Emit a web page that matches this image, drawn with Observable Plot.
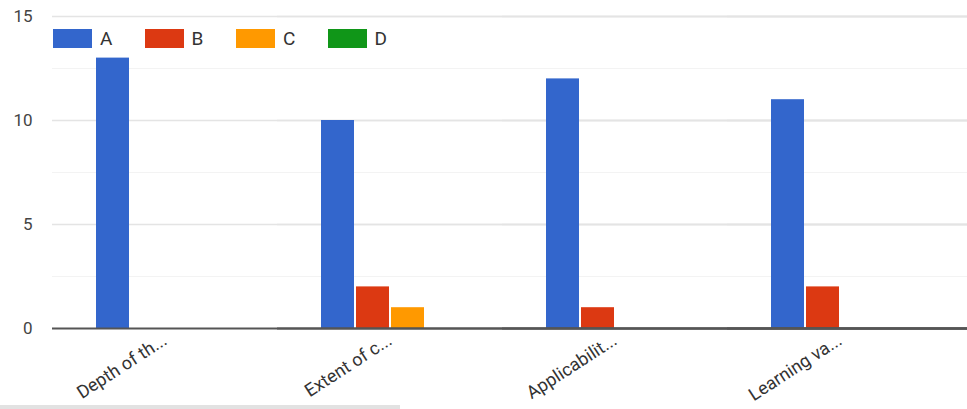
<!DOCTYPE html>
<html>
<head>
<meta charset="utf-8">
<script src="https://cdn.jsdelivr.net/npm/d3@7"></script>
<script src="https://cdn.jsdelivr.net/npm/@observablehq/plot@0.6"></script>
<style>
  html, body { margin: 0; padding: 0; background: #fff; }
  #wrap { position: relative; width: 967px; height: 409px; overflow: hidden; font-family: Roboto, "Noto Sans", Arial, sans-serif; }
  #legend { position: absolute; left: 53px; top: 29px; display: flex; }
  .item { display: flex; align-items: center; width: 91.5px; }
  .sw { width: 39px; height: 19px; margin-right: 8px; }
  .lab { font-size: 19px; color: #333; line-height: 19px; }
  #scroll { position: absolute; left: 0; top: 405px; width: 400px; height: 4px; background: #e2e2e2; }
</style>
</head>
<body>
<div id="wrap">
  <div id="chart"></div>
  <div id="legend"></div>
  <div id="scroll"></div>
</div>
<script>
const categories = ["Depth of th...", "Extent of c...", "Applicabilit...", "Learning va..."];
const seriesNames = ["A", "B", "C", "D"];
const valuesA = [13, 10, 12, 11];
const valuesB = [0, 2, 1, 2];
const valuesC = [0, 1, 0, 0];
const valuesD = [0, 0, 0, 0];
const seriesColors = ["#3366cc", "#dc3912", "#ff9900", "#109618"];
const yTicks = [0, 5, 10, 15];
const yMinorTicks = [2.5, 7.5, 12.5];

const seriesValues = [valuesA, valuesB, valuesC, valuesD];
const data = [];
categories.forEach((c, i) => {
  seriesNames.forEach((s, j) => {
    data.push({category: c, series: s, value: seriesValues[j][i]});
  });
});

const chart = Plot.plot({
  width: 967,
  height: 409,
  marginLeft: 52,
  marginRight: 0,
  marginTop: 16,
  marginBottom: 81,
  style: {fontFamily: "Roboto, 'Noto Sans', Arial, sans-serif", background: "#fff"},
  fx: {domain: categories, range: [51.5, 951.5], padding: 0, label: null},
  x: {domain: seriesNames, paddingInner: 2 / 35, paddingOuter: 42.5 / 35, axis: null},
  y: {domain: [0, 15], label: null},
  color: {domain: seriesNames, range: seriesColors},
  marks: [
    Plot.ruleY(yMinorTicks, {stroke: "#f3f3f3", strokeWidth: 1, className: "gridline"}),
    Plot.ruleY(yTicks.filter(d => d > 0), {stroke: "#e4e4e4", strokeWidth: 1.5, className: "gridline"}),
    Plot.barY(data, {fx: "category", x: "series", y: "value", fill: "series"}),
    Plot.ruleY([0], {stroke: "#555", strokeWidth: 2, className: "gridline"}),
    Plot.axisY({ticks: yTicks, tickSize: 0, tickPadding: 20, fontSize: 17, color: "#444"}),
    Plot.axisFx({anchor: "bottom", tickRotate: -33, tickSize: 0, tickPadding: 10, fontSize: 18, color: "#333", label: null})
  ]
});
// extend gridlines to the right edge of the picture
d3.select(chart).selectAll(".gridline line").attr("x2", 2000);
document.getElementById("chart").appendChild(chart);

const legend = document.getElementById("legend");
seriesNames.forEach((s, j) => {
  const it = document.createElement("div");
  it.className = "item";
  const sw = document.createElement("div");
  sw.className = "sw";
  sw.style.background = seriesColors[j];
  const lb = document.createElement("span");
  lb.className = "lab";
  lb.textContent = s;
  it.appendChild(sw); it.appendChild(lb);
  legend.appendChild(it);
});
</script>
</body>
</html>
